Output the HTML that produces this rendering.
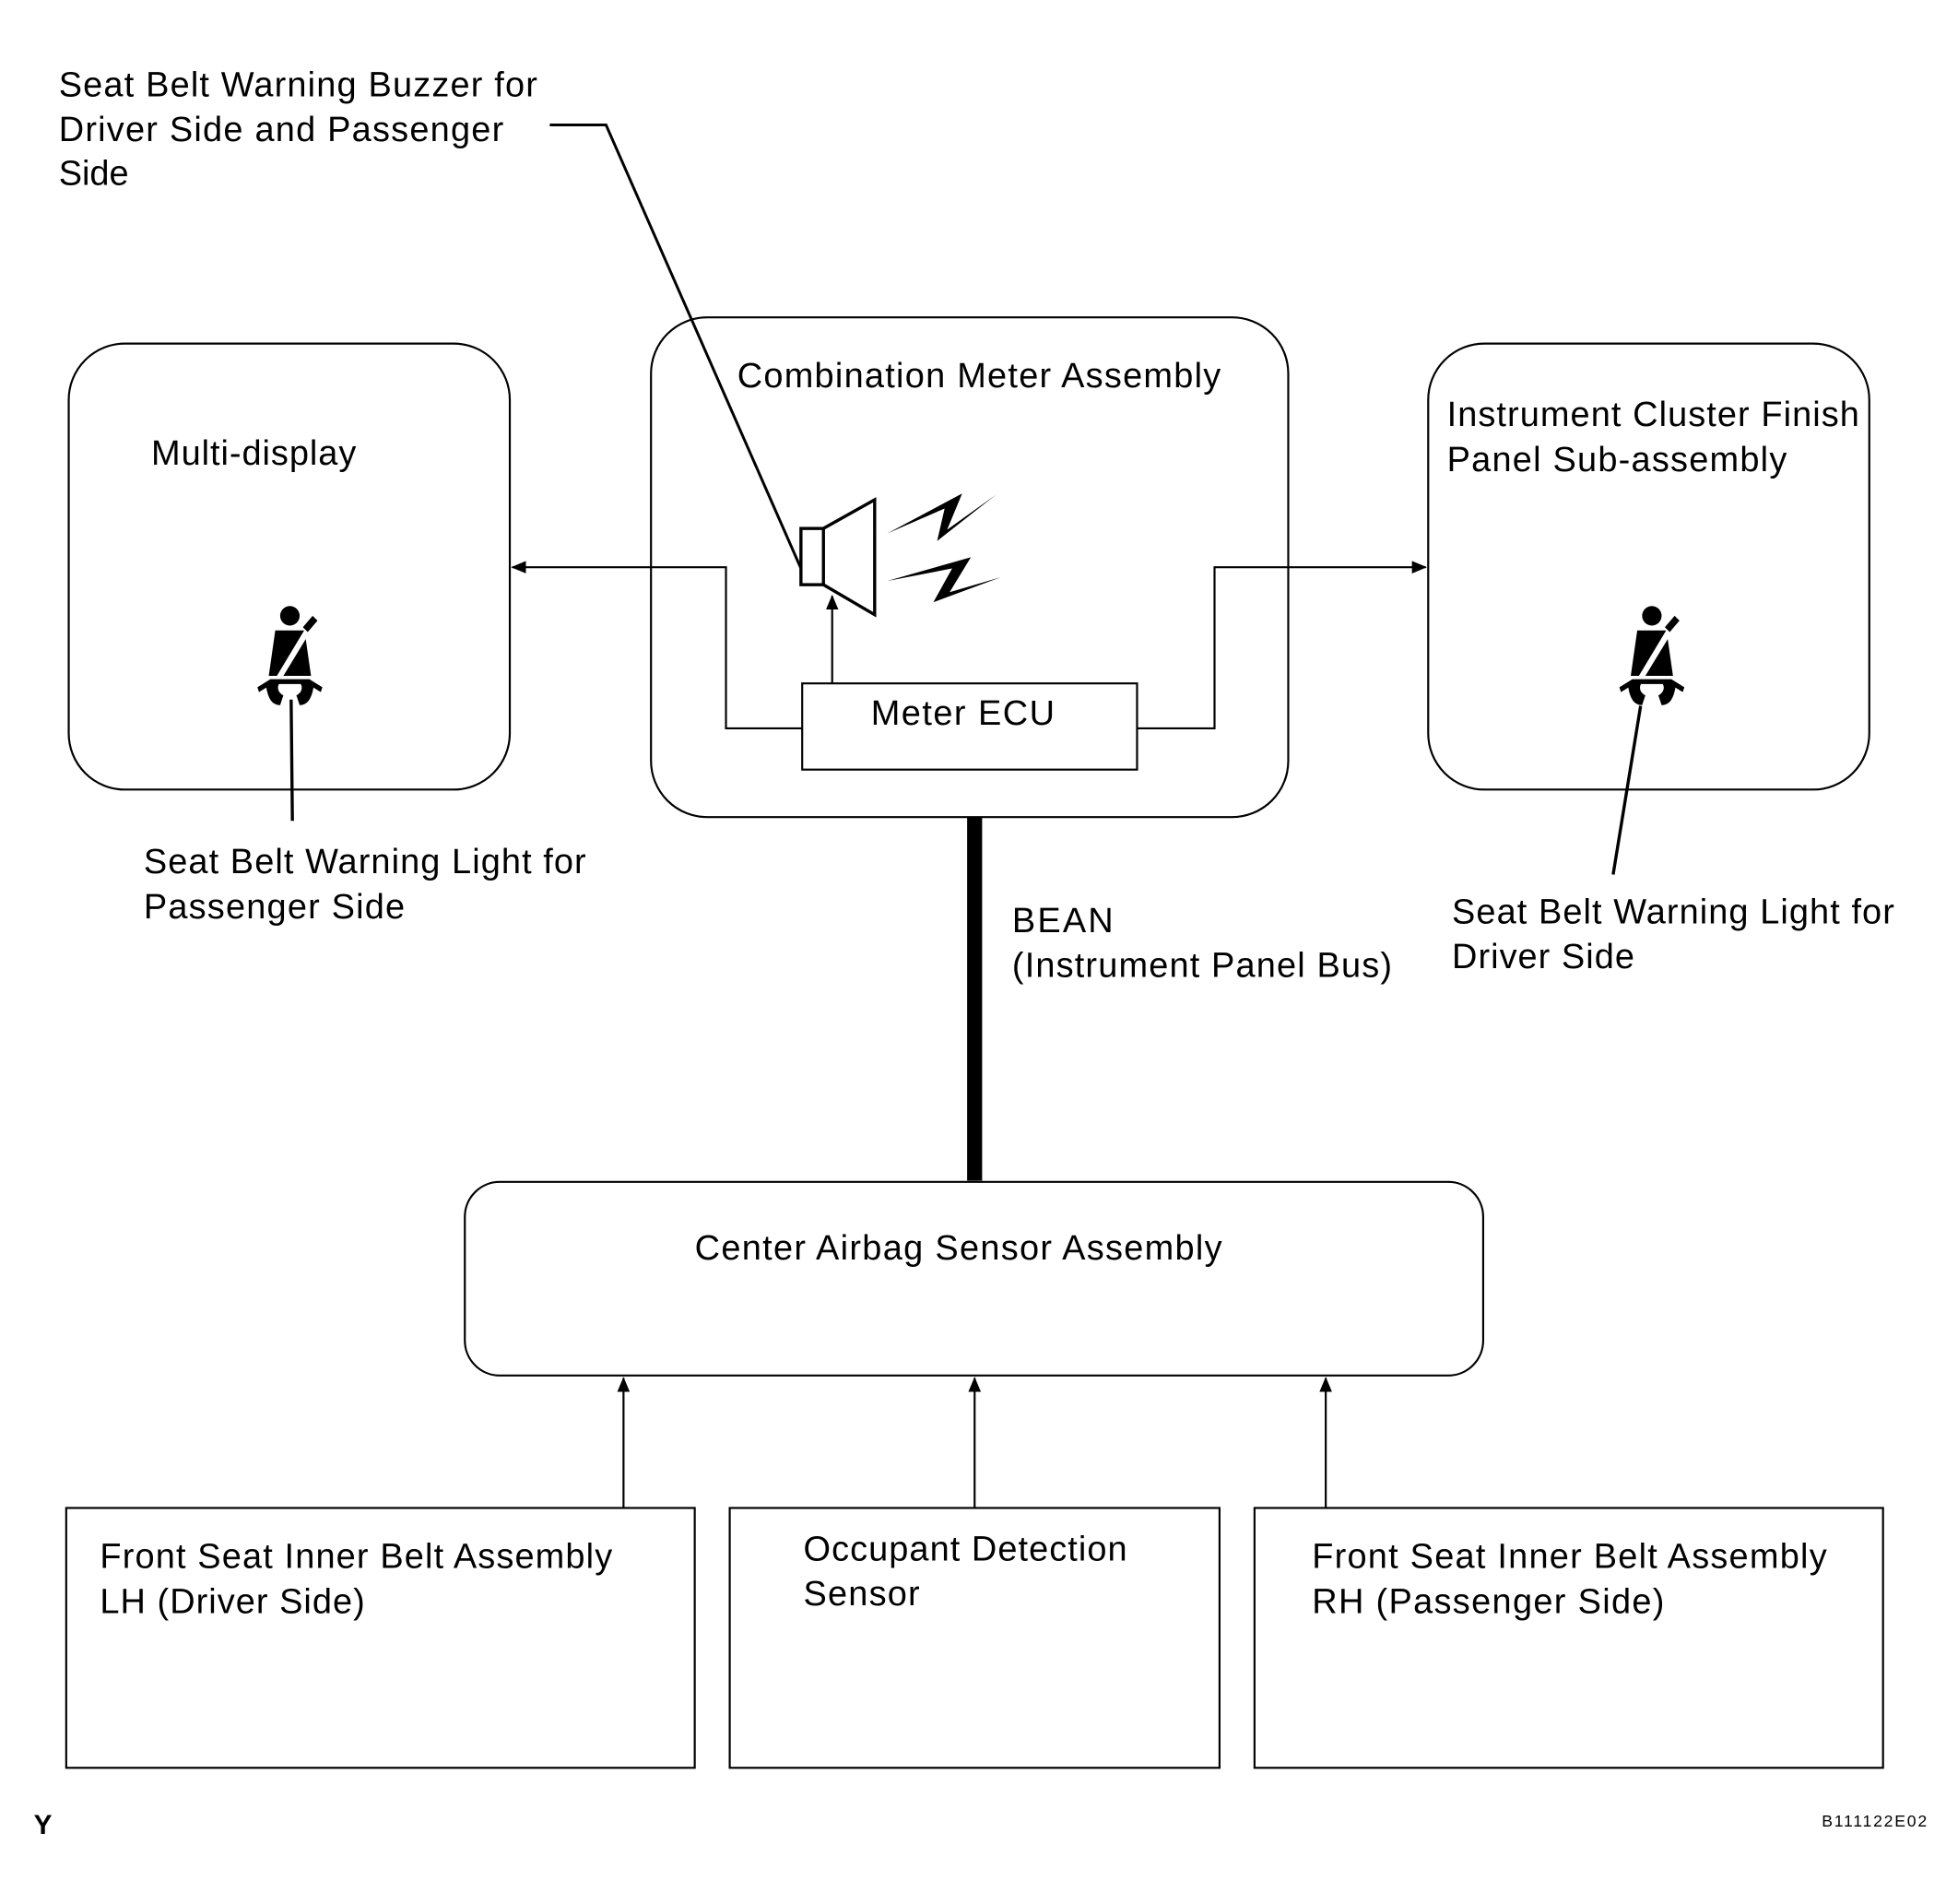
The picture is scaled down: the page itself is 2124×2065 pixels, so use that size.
<!DOCTYPE html>
<html><head><style>html,body{margin:0;padding:0;background:#fff}svg{display:block}</style></head>
<body>
<svg width="2124" height="2065" viewBox="0 0 1567 1524" preserveAspectRatio="none" xmlns="http://www.w3.org/2000/svg" font-family="Liberation Sans, Arial, sans-serif" font-size="28" fill="#000">
<defs>
<marker id="a" markerWidth="12" markerHeight="10" refX="11" refY="5" orient="auto" markerUnits="userSpaceOnUse"><path d="M0,0 L12,5 L0,10 Z" fill="#000"/></marker>
<g id="belt">
<circle cx="0" cy="-27" r="6"/>
<path d="M-9,-18 L9,-18 L13,10 L-13,10 Z"/>
<path d="M-15,14 C-14,22 -12,28 -6,28 L-4,22 C-8,20 -8,16 -6,14 Z"/>
<path d="M15,14 C14,22 12,28 6,28 L4,22 C8,20 8,16 6,14 Z"/>
<path d="M-12,12 L12,12 L14,15 L-14,15 Z"/>
<path d="M-20,17 L-12,12 L-11,15 L-19,20 Z"/>
<path d="M20,17 L12,12 L11,15 L19,20 Z"/>
<path d="M-8,10 L10,-20 L13,-18 L-4,10 Z" fill="#fff"/>
<path d="M8,-20 L14,-27 L17,-24 L11,-17 Z"/>
</g>
</defs>
<g fill="none" stroke="#000" stroke-width="1.6">
<rect x="55" y="275" width="353" height="357" rx="45"/>
<rect x="521" y="254" width="510" height="400" rx="45"/>
<rect x="1143" y="275" width="353" height="357" rx="45"/>
<rect x="642" y="547" width="268" height="69"/>
<rect x="372" y="946" width="815" height="155" rx="28"/>
<rect x="53" y="1207" width="503" height="208"/>
<rect x="584" y="1207" width="392" height="208"/>
<rect x="1004" y="1207" width="503" height="208"/>
<polyline points="642,583 581,583 581,454 410,454" marker-end="url(#a)"/>
<polyline points="910,583 972,583 972,454 1141,454" marker-end="url(#a)"/>
<line x1="666" y1="547" x2="666" y2="477" marker-end="url(#a)"/>
<line x1="499" y1="1207" x2="499" y2="1103" marker-end="url(#a)"/>
<line x1="780" y1="1207" x2="780" y2="1103" marker-end="url(#a)"/>
<line x1="1061" y1="1207" x2="1061" y2="1103" marker-end="url(#a)"/>
<polyline points="440,100 485,100 641,455" stroke-width="2.2"/>
<line x1="233" y1="560" x2="234" y2="657" stroke-width="2.5"/>
<line x1="1313" y1="565" x2="1291" y2="700" stroke-width="2.5"/>
<rect x="641" y="423" width="18" height="45" stroke-width="2.5"/>
<path d="M659,423 L700,400 L700,492 L659,468" stroke-width="2.5"/>
</g>
<path d="M710,427 L770,395 L758,424 L797,396 L750,433 L756,407 Z"/>
<path d="M710,465 L777,446 L760,474 L801,462 L747,482 L762,455 Z"/>
<rect x="774" y="654" width="12" height="291"/>
<use href="#belt" transform="translate(232,528) scale(1.3)"/>
<use href="#belt" transform="translate(1322,528) scale(1.3)"/>
<text x="47" y="77" textLength="383">Seat Belt Warning Buzzer for</text>
<text x="47" y="113" textLength="356">Driver Side and Passenger</text>
<text x="47" y="148">Side</text>
<text x="121" y="372" textLength="164">Multi-display</text>
<text x="590" y="310" textLength="387">Combination Meter Assembly</text>
<text x="1158" y="341" textLength="330">Instrument Cluster Finish</text>
<text x="1158" y="377" textLength="272">Panel Sub-assembly</text>
<text x="697" y="580" textLength="147">Meter ECU</text>
<text x="115" y="699" textLength="354">Seat Belt Warning Light for</text>
<text x="115" y="735" textLength="209">Passenger Side</text>
<text x="1162" y="739" textLength="354">Seat Belt Warning Light for</text>
<text x="1162" y="775" textLength="146">Driver Side</text>
<text x="810" y="746" textLength="81">BEAN</text>
<text x="810" y="782" textLength="304">(Instrument Panel Bus)</text>
<text x="556" y="1008" textLength="422">Center Airbag Sensor Assembly</text>
<text x="80" y="1255" textLength="410">Front Seat Inner Belt Assembly</text>
<text x="80" y="1291" textLength="212">LH (Driver Side)</text>
<text x="643" y="1249" textLength="259">Occupant Detection</text>
<text x="643" y="1285" textLength="93">Sensor</text>
<text x="1050" y="1255" textLength="412">Front Seat Inner Belt Assembly</text>
<text x="1050" y="1291" textLength="282">RH (Passenger Side)</text>
<text x="27" y="1468" font-weight="bold" font-size="22">Y</text>
<text x="1458" y="1462" font-size="13" textLength="84">B111122E02</text>
</svg>
</body></html>
